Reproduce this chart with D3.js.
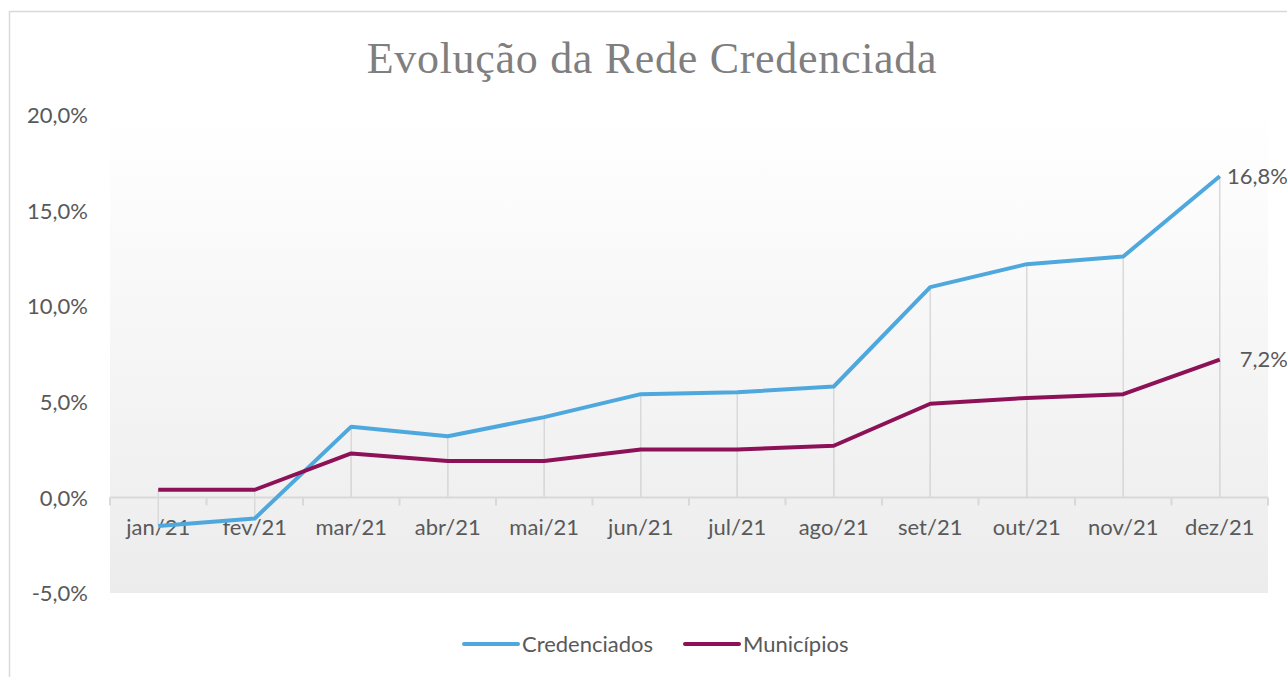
<!DOCTYPE html>
<html lang="pt">
    <head>
        <meta charset="utf-8">
        <title>Evolução da Rede Credenciada</title>
        <script src="https://d3js.org/d3.v7.min.js"></script>
        <style type="text/css">
            body {
                margin: 0;
                background: white;
            }
            .axis text {
                font-family: Lato, sans-serif;
                font-size: 22px;
                fill: #595959;
            }
            .title {
                font-family: "Liberation Serif", serif;
                font-size: 44px;
                letter-spacing: 0.7px;
                fill: #7f7f7f;
            }
            .line {
                fill: none;
                stroke-width: 4px;
                stroke-linejoin: round;
            }
            .label, .legend text {
                font-family: Lato, sans-serif;
                font-size: 22px;
                fill: #595959;
            }
        </style>
    </head>
    <body>
        <script type="text/javascript">

            const w = 1287;
            const h = 677;

            // data
            const months = ["jan/21", "fev/21", "mar/21", "abr/21", "mai/21", "jun/21",
                            "jul/21", "ago/21", "set/21", "out/21", "nov/21", "dez/21"];
            const credenciados = [-1.5, -1.1, 3.7, 3.2, 4.2, 5.4, 5.5, 5.8, 11.0, 12.2, 12.6, 16.8];
            const municipios = [0.4, 0.4, 2.3, 1.9, 1.9, 2.5, 2.5, 2.7, 4.9, 5.2, 5.4, 7.2];
            const yTicks = [-5, 0, 5, 10, 15, 20];
            const seriesNames = ["Credenciados", "Municípios"];
            const colors = ["#4ea8de", "#8d1157"];

            const plot = {left: 110, right: 1268, top: 115, bottom: 593};

            const xScale = d3.scaleBand()
                             .domain(months)
                             .range([plot.left, plot.right]);

            const yScale = d3.scaleLinear()
                             .domain([-5, 20])
                             .range([plot.bottom, plot.top]);

            // pt-BR style: comma decimal, plain hyphen for negatives
            const fmt = v => v.toFixed(1).replace(".", ",") + "%";

            const svg = d3.select("body")
                    .append("svg")
                    .attr("width", w)
                    .attr("height", h);

            // chart border
            svg.append("rect")
               .attr("x", 9.5).attr("y", 11.5)
               .attr("width", w + 10).attr("height", h + 10)
               .attr("fill", "white")
               .attr("stroke", "#d9d9d9")
               .attr("stroke-width", 1.5);

            // plot background gradient
            const grad = svg.append("defs").append("linearGradient")
                .attr("id", "bg").attr("x1", 0).attr("y1", 0).attr("x2", 0).attr("y2", 1);
            grad.append("stop").attr("offset", "0%").attr("stop-color", "#ffffff");
            grad.append("stop").attr("offset", "100%").attr("stop-color", "#ececec");

            svg.append("rect")
               .attr("x", plot.left).attr("y", plot.top)
               .attr("width", plot.right - plot.left)
               .attr("height", plot.bottom - plot.top)
               .attr("fill", "url(#bg)");

            // title
            svg.append("text")
               .attr("class", "title")
               .attr("x", 652).attr("y", 73)
               .attr("text-anchor", "middle")
               .text("Evolução da Rede Credenciada");

            // left axis (labels only)
            const leftAxis = d3.axisLeft(yScale)
                               .tickValues(yTicks)
                               .tickSize(0)
                               .tickPadding(0)
                               .tickFormat(fmt);
            svg.append("g")
               .attr("class", "axis")
               .attr("transform", "translate(88,0)")
               .call(leftAxis)
               .call(g => g.select(".domain").remove())
               .call(g => g.selectAll("text").attr("dy", "0.35em"));

            const cx = d => xScale(d) + xScale.bandwidth() / 2;

            // drop lines from each point to zero
            const drops = svg.append("g");
            [credenciados, municipios].forEach(vals => {
                drops.selectAll(null)
                     .data(months)
                     .join("line")
                     .attr("x1", d => cx(d)).attr("x2", d => cx(d))
                     .attr("y1", (d, i) => yScale(vals[i]))
                     .attr("y2", yScale(0))
                     .attr("stroke", "#d9d9d9")
                     .attr("stroke-width", 1.5);
            });

            // zero axis with ticks between categories
            const bounds = months.map(m => xScale(m)).concat([plot.right]);
            const zero = svg.append("g");
            zero.append("line")
                .attr("x1", plot.left).attr("x2", plot.right)
                .attr("y1", yScale(0)).attr("y2", yScale(0))
                .attr("stroke", "#d9d9d9").attr("stroke-width", 2);
            zero.selectAll(null)
                .data(bounds)
                .join("line")
                .attr("x1", d => d).attr("x2", d => d)
                .attr("y1", yScale(0)).attr("y2", yScale(0) + 8)
                .attr("stroke", "#d9d9d9").attr("stroke-width", 2);

            // category labels
            const bottomAxis = d3.axisBottom(xScale).tickSize(0).tickPadding(0);
            svg.append("g")
               .attr("class", "axis")
               .attr("transform", "translate(0," + (yScale(0) + 30) + ")")
               .call(bottomAxis)
               .call(g => g.select(".domain").remove())
               .call(g => g.selectAll("text").attr("dy", "0.35em"));

            // lines
            const coords = d3.line()
                .x((d, i) => cx(months[i]))
                .y(d => yScale(d));

            svg.selectAll(".line")
               .data([credenciados, municipios])
               .join("path")
               .attr("class", "line")
               .attr("stroke", (d, i) => colors[i])
               .attr("d", coords);

            // end labels
            svg.selectAll(".label")
               .data([credenciados, municipios])
               .join("text")
               .attr("class", "label")
               .attr("x", w + 1)
               .attr("y", d => yScale(d[d.length - 1]))
               .attr("dy", "0.35em")
               .attr("text-anchor", "end")
               .text(d => fmt(d[d.length - 1]));

            // legend
            const legendX = [464, 685];
            const legend = svg.append("g").attr("class", "legend");
            seriesNames.forEach((name, i) => {
                legend.append("line")
                      .attr("x1", legendX[i]).attr("x2", legendX[i] + 54)
                      .attr("y1", 644).attr("y2", 644)
                      .attr("stroke", colors[i])
                      .attr("stroke-width", 4)
                      .attr("stroke-linecap", "round");
                legend.append("text")
                      .attr("x", legendX[i] + 58)
                      .attr("y", 644)
                      .attr("dy", "0.35em")
                      .text(name);
            });

        </script>
    </body>
</html>
